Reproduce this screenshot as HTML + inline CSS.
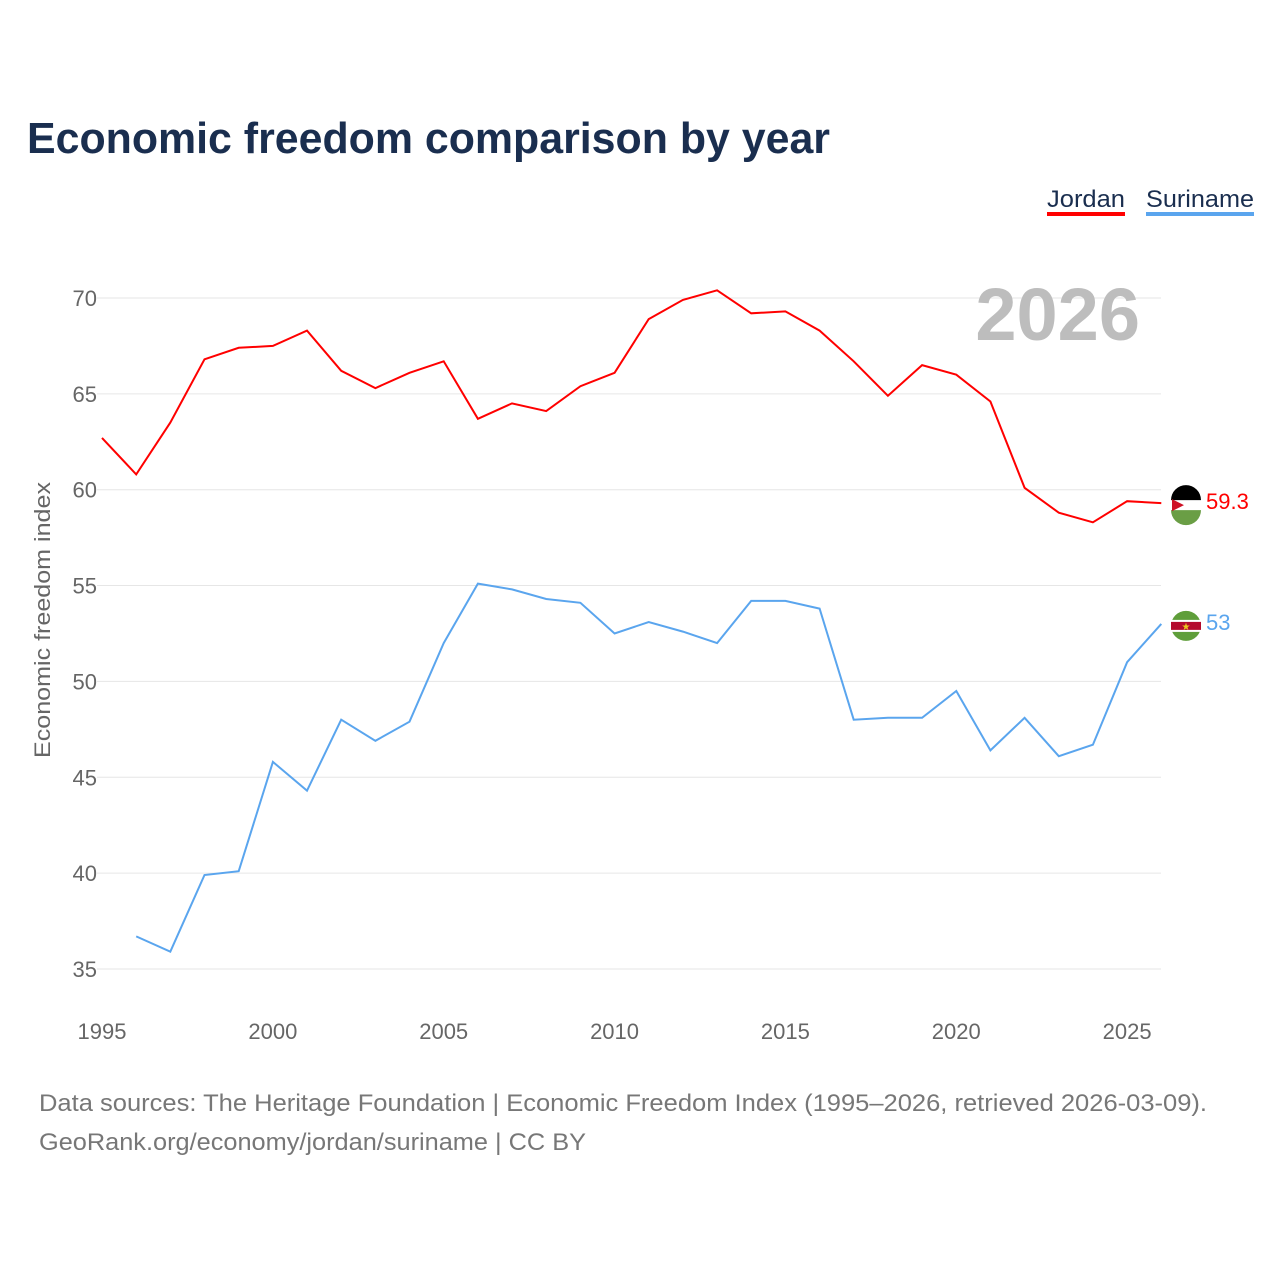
<!DOCTYPE html>
<html><head><meta charset="utf-8"><style>
body{margin:0;background:#fff;font-family:"Liberation Sans",sans-serif;}
#wrap{position:relative;width:1280px;height:1280px;overflow:hidden}
</style></head><body>
<div id="wrap">
<svg id="chart" width="1280" height="1280"></svg>
</div>
<script>
const years=[1995,1996,1997,1998,1999,2000,2001,2002,2003,2004,2005,2006,2007,2008,2009,2010,2011,2012,2013,2014,2015,2016,2017,2018,2019,2020,2021,2022,2023,2024,2025,2026];
const jordan=[62.7,60.8,63.5,66.8,67.4,67.5,68.3,66.2,65.3,66.1,66.7,63.7,64.5,64.1,65.4,66.1,68.9,69.9,70.4,69.2,69.3,68.3,66.7,64.9,66.5,66.0,64.6,60.1,58.8,58.3,59.4,59.3];
const suriname=[null,36.7,35.9,39.9,40.1,45.8,44.3,48.0,46.9,47.9,52.0,55.1,54.8,54.3,54.1,52.5,53.1,52.6,52.0,54.2,54.2,53.8,48.0,48.1,48.1,49.5,46.4,48.1,46.1,46.7,51.0,53.0];
const yTicks=[35,40,45,50,55,60,65,70];
const xTicks=[1995,2000,2005,2010,2015,2020,2025];
const NS="http://www.w3.org/2000/svg";
const svg=document.getElementById('chart');
const X=y=>102+(y-1995)*34.17;
const Y=v=>298+(70-v)*19.17;
function el(t,a,txt){const e=document.createElementNS(NS,t);for(const k in a)e.setAttribute(k,a[k]);if(txt!=null)e.textContent=txt;svg.appendChild(e);return e;}
let e;
e=el('text',{x:27,y:153,'font-size':44,'font-weight':'bold',fill:'#1a2e4f',textLength:803,lengthAdjust:'spacingAndGlyphs'},'Economic freedom comparison by year');


yTicks.forEach(t=>{
 e=el('line',{x1:97,x2:1161,y1:Y(t),y2:Y(t),stroke:'#e6e6e6','stroke-width':1});
 
 
 e=el('text',{x:97,y:Y(t)+8,'font-size':22,fill:'#666','text-anchor':'end'},t);
 
 
});
xTicks.forEach(t=>{
 e=el('text',{x:X(t),y:1039,'font-size':22,fill:'#666','text-anchor':'middle'},t);
 
 
});
e=el('text',{x:50,y:620,'font-size':22,fill:'#666','text-anchor':'middle',transform:'rotate(-90 50 620)',textLength:276,lengthAdjust:'spacingAndGlyphs'},'Economic freedom index');


e=el('text',{x:1140,y:340,'font-size':74,'font-weight':'bold',fill:'#bdbdbd','text-anchor':'end'},'2026');


function path(vals,color,name){
 let d='';vals.forEach((v,i)=>{if(v==null)return;d+=(d?'L':'M')+X(years[i]).toFixed(1)+','+Y(v).toFixed(1);});
 const p=el('path',{d:d,fill:'none',stroke:color,'stroke-width':2});
 
 
}
path(jordan,'#ff0000','jordan-line');
path(suriname,'#5aa5ee','suriname-line');
const lj=jordan[jordan.length-1],ls=suriname[suriname.length-1];
let cx=1186,cy=Y(lj)+2;
e=el('circle',{cx:cx,cy:cy,r:15,fill:'#fff'});
el('path',{d:`M${cx-15},${cy-5} A15,15 0 0 1 ${cx+15},${cy-5} Z`,fill:'#000'});
el('path',{d:`M${cx-15},${cy+5} A15,15 0 0 0 ${cx+15},${cy+5} Z`,fill:'#6a9e45'});
el('path',{d:`M${cx-14},${cy-6} L${cx-2},${cy} L${cx-14},${cy+6} Z`,fill:'#ce1126'});
e=el('text',{x:1206,y:Y(lj)+6,'font-size':22,fill:'#ff0000'},lj);
cy=Y(ls)+2;
e=el('circle',{cx:cx,cy:cy,r:15,fill:'#5f9e3a'});
el('rect',{x:cx-15,y:cy-6,width:30,height:12,fill:'#fff'});
el('rect',{x:cx-15,y:cy-4,width:30,height:8,fill:'#b40a2d'});
el('text',{x:cx,y:cy+4,'font-size':10,fill:'#ecc81d','text-anchor':'middle'},'★');
e=el('text',{x:1206,y:Y(ls)+6,'font-size':22,fill:'#5aa5ee'},ls);
e=el('text',{x:1047,y:207,'font-size':24,fill:'#1a2e4f',textLength:78,lengthAdjust:'spacingAndGlyphs'},'Jordan');
el('rect',{x:1047,y:212,width:78,height:4,fill:'#ff0000'});
e=el('text',{x:1146,y:207,'font-size':24,fill:'#1a2e4f',textLength:108,lengthAdjust:'spacingAndGlyphs'},'Suriname');
el('rect',{x:1146,y:212,width:108,height:4,fill:'#5aa5ee'});
e=el('text',{x:39,y:1111,'font-size':24,fill:'#777',textLength:1168,lengthAdjust:'spacingAndGlyphs'},'Data sources: The Heritage Foundation | Economic Freedom Index (1995–2026, retrieved 2026-03-09).');
e=el('text',{x:39,y:1150,'font-size':24,fill:'#777',textLength:547,lengthAdjust:'spacingAndGlyphs'},'GeoRank.org/economy/jordan/suriname | CC BY');
</script>
</body></html>
